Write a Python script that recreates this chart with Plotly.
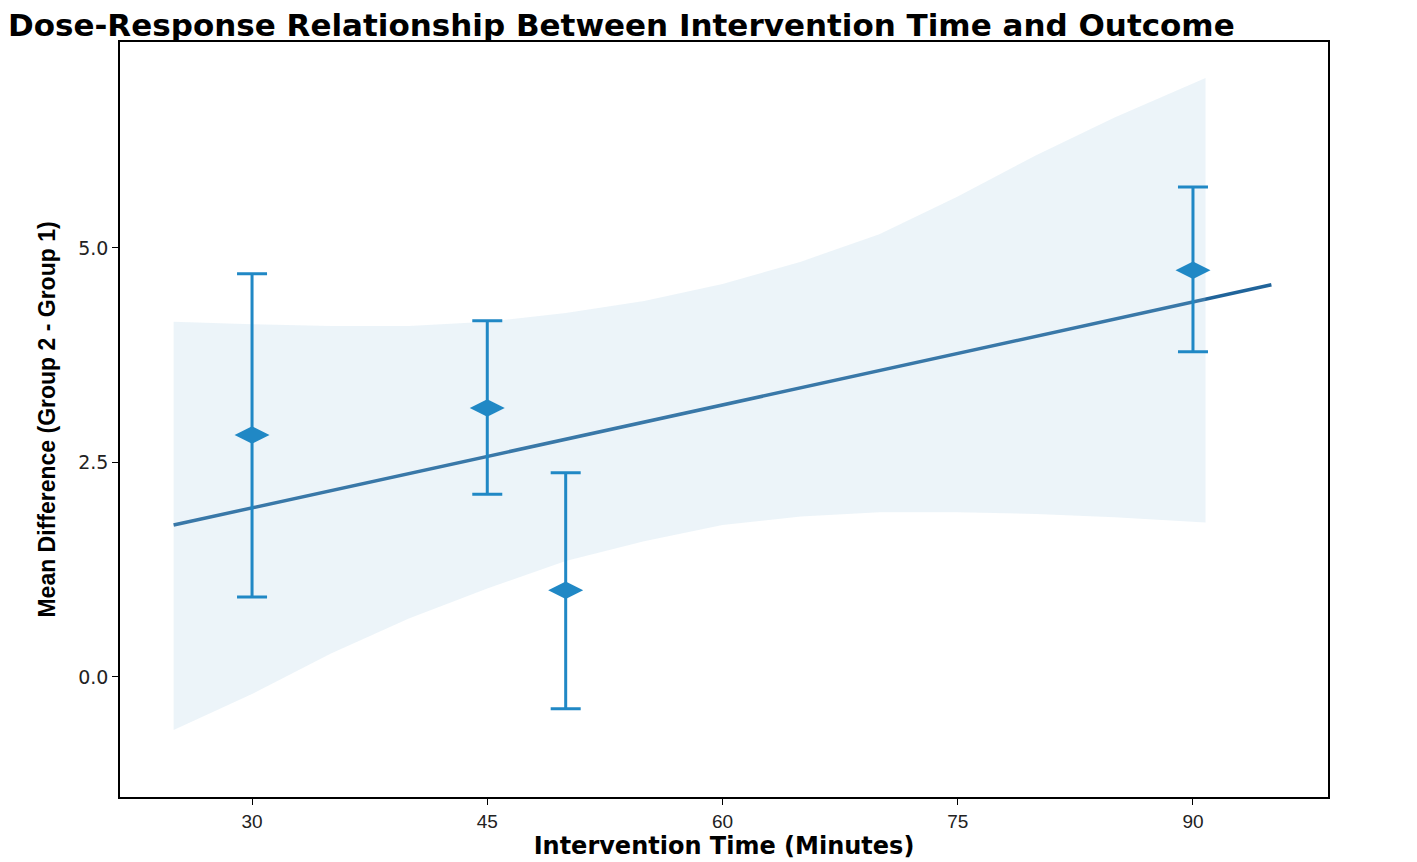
import plotly.graph_objects as go

# Observed points (intervention time, mean difference, CI bounds)
time_min = [30, 45, 50, 90]
mean_diff = [2.82, 3.135, 1.01, 4.74]
ci_upper = [4.70, 4.15, 2.38, 5.71]
ci_lower = [0.93, 2.13, -0.37, 3.79]

# Fitted regression line
fit_x = [25, 95]
fit_y = [1.77, 4.57]

# Confidence ribbon around fit
band_x = [25, 30, 35, 40, 45, 50, 55, 60, 65, 70, 75, 80, 85, 90.8]
band_upper = [4.14, 4.11, 4.09, 4.09, 4.14, 4.24, 4.38, 4.58, 4.84, 5.16, 5.60, 6.08, 6.52, 6.98]
band_lower = [-0.62, -0.20, 0.27, 0.68, 1.03, 1.35, 1.58, 1.77, 1.87, 1.92, 1.92, 1.90, 1.86, 1.80]

x_ticks = [30, 45, 60, 75, 90]
y_ticks = [0.0, 2.5, 5.0]
y_tick_labels = ["0.0", "2.5", "5.0"]

err_plus = [u - m for u, m in zip(ci_upper, mean_diff)]
err_minus = [m - l for m, l in zip(mean_diff, ci_lower)]

fig = go.Figure()

fig.add_trace(go.Scatter(
    x=fit_x, y=fit_y, mode="lines",
    line=dict(color="#20649a", width=3.5),
    showlegend=False, hoverinfo="skip",
))

fig.add_trace(go.Scatter(
    x=band_x + band_x[::-1], y=band_upper + band_lower[::-1],
    fill="toself", fillcolor="rgba(160,200,225,0.2)",
    line=dict(width=0), mode="lines",
    showlegend=False, hoverinfo="skip",
))

fig.add_trace(go.Scatter(
    x=time_min, y=mean_diff, mode="markers",
    marker=dict(symbol="diamond-wide", size=25, color="#2088c5"),
    error_y=dict(type="data", symmetric=False, array=err_plus, arrayminus=err_minus,
                 color="#2088c5", thickness=3, width=15),
    showlegend=False,
))

fig.update_layout(
    width=1417, height=862,
    paper_bgcolor="white", plot_bgcolor="white",
    margin=dict(l=112, r=97, t=34, b=73),
    title=dict(
        text="Dose-Response Relationship Between Intervention Time and Outcome",
        x=0.0, xanchor="left", xref="container",
        y=0.993, yanchor="top", yref="container",
        font=dict(family="DejaVu Sans", size=31, color="black", weight="bold"),
    ),
    font=dict(family="Liberation Sans", color="#222222"),
)

fig.update_xaxes(
    range=[21.58, 98.61], tickvals=x_ticks,
    showgrid=False, zeroline=False,
    showline=True, linecolor="black", linewidth=1.5, mirror=True,
    ticks="outside", ticklen=6, tickcolor="black",
    tickfont=dict(size=19, color="#222222", family="Liberation Sans"),
    title=dict(text="Intervention Time (Minutes)", standoff=2,
               font=dict(family="DejaVu Sans", size=24, color="black", weight="bold")),
)
fig.update_yaxes(
    range=[-1.40, 7.40], tickvals=y_ticks, ticktext=y_tick_labels,
    showgrid=False, zeroline=False,
    showline=True, linecolor="black", linewidth=1.5, mirror=True,
    ticks="outside", ticklen=6, tickcolor="black",
    tickfont=dict(size=19, color="#222222", family="DejaVu Sans"),
    title=dict(text="Mean Difference (Group 2 - Group 1)", standoff=16,
               font=dict(family="Liberation Sans", size=23, color="black", weight="bold")),
)

fig.write_html("out.html")
